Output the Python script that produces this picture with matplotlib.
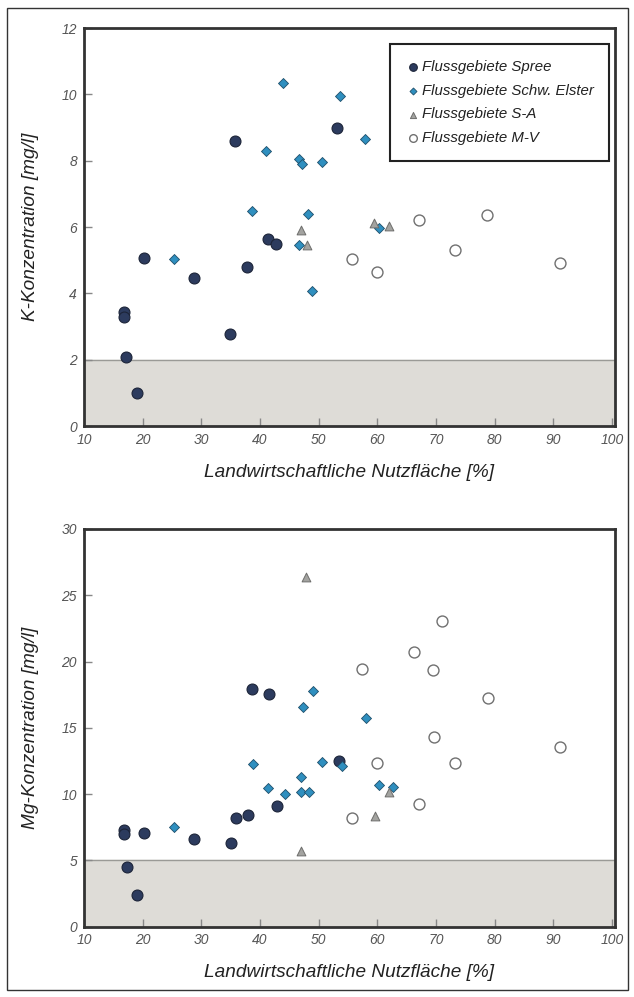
import numpy as np
import matplotlib.pyplot as plt
from matplotlib.patches import Rectangle

plt.rcParams['font.family'] = ['Liberation Sans', 'DejaVu Sans']
plt.rcParams['font.style'] = 'italic'

# --- K-Konzentration (top) ---
k_spree_x = [16.8, 16.8, 17.2, 19.1, 20.2, 28.7, 34.9, 37.8, 41.4, 42.7, 35.7, 53.2]
k_spree_y = [3.43, 3.28, 2.07, 0.99, 5.07, 4.46, 2.78, 4.79, 5.64, 5.49, 8.58, 8.98]
k_elster_x = [25.3, 38.7, 41.1, 44.0, 46.7, 47.2, 50.5, 48.2, 46.7, 48.9, 53.7, 57.9, 60.3]
k_elster_y = [5.03, 6.47, 8.30, 10.33, 8.04, 7.91, 7.97, 6.38, 5.47, 4.06, 9.96, 8.64, 5.96]
k_sa_x = [47.0, 48.0, 59.5, 62.0]
k_sa_y = [5.90, 5.46, 6.13, 6.03]
k_mv_x = [55.6, 60.0, 67.1, 73.3, 78.7, 91.2]
k_mv_y = [5.03, 4.64, 6.20, 5.30, 6.36, 4.90]

# --- Mg-Konzentration (bottom) ---
mg_spree_x = [16.9, 16.9, 20.3, 17.3, 19.1, 28.8, 35.0, 35.9, 38.0, 42.9, 53.4, 38.7, 41.5]
mg_spree_y = [7.25, 6.95, 7.03, 4.48, 2.37, 6.58, 6.32, 8.17, 8.40, 9.08, 12.47, 17.90, 17.55]
mg_elster_x = [25.3, 38.8, 41.3, 44.2, 46.9, 46.9, 48.4, 50.6, 54.0, 47.4, 49.1, 58.0, 60.3, 62.7]
mg_elster_y = [7.53, 12.28, 10.47, 10.02, 11.30, 10.12, 10.17, 12.43, 12.13, 16.60, 17.76, 15.76, 10.70, 10.53]
mg_sa_x = [47.9, 59.6, 62.0, 47.0]
mg_sa_y = [26.4, 8.34, 10.17, 5.70]
mg_mv_x = [55.6, 60.0, 67.1, 69.6, 73.3, 91.2, 78.8, 57.3, 66.3, 71.1, 69.4]
mg_mv_y = [8.17, 12.36, 9.27, 14.33, 12.33, 13.55, 17.25, 19.40, 20.70, 23.05, 19.35]

labels = ["Flussgebiete Spree", "Flussgebiete Schw. Elster",
          "Flussgebiete S-A", "Flussgebiete M-V"]

fig = plt.figure(figsize=(6.34, 9.97), dpi=100)
ax1 = fig.add_axes([84/634, 1-426/997, 531/634, 398/997])
ax2 = fig.add_axes([84/634, 1-926.5/997, 531/634, 397.5/997])

# page frame
fig.add_artist(Rectangle((7/634, 1-990/997), 621/634, 982/997, transform=fig.transFigure,
                         fill=False, edgecolor='#333333', linewidth=1.0))


def draw(ax, data, ymax, ystep, shade, ylabel, legend=False):
    sx, sy, ex, ey, ax_, ay, mx, my = data
    ax.axhspan(0, shade, color='#dedcd7', zorder=0)
    ax.axhline(shade, color='#9a9a96', linewidth=1.0, zorder=1)
    ax.scatter(sx, sy, s=62, marker='o', color='#2c3b5e', edgecolor='#1c2438', linewidth=0.8,
               zorder=3, label=labels[0])
    ax.scatter(ex, ey, s=26, marker='D', color='#2f8fbf', edgecolor='#1f4f6a', linewidth=0.6,
               zorder=4, label=labels[1])
    ax.scatter(ax_, ay, s=40, marker='^', color='#a3a3a0', edgecolor='#6e6e6c', linewidth=0.7,
               zorder=4, label=labels[2])
    ax.scatter(mx, my, s=62, marker='o', facecolor='white', edgecolor='#707070', linewidth=1.0,
               zorder=3, label=labels[3])
    ax.set_xlim(10, 100.5)
    ax.set_ylim(0, ymax)
    ax.set_xticks(np.arange(10, 101, 10))
    ax.set_yticks(np.arange(0, ymax + 0.1, ystep))
    ax.tick_params(direction='in', length=6, width=1, color='#888888',
                   labelcolor='#555555', labelsize=10, pad=5)
    for lab in ax.get_xticklabels() + ax.get_yticklabels():
        lab.set_fontstyle('italic')
    for sp in ax.spines.values():
        sp.set_linewidth(2.0)
        sp.set_color('#333333')
    ax.set_xlabel("Landwirtschaftliche Nutzfläche [%]", fontsize=13.7, style='italic',
                  color='#222222', labelpad=12)
    ax.set_ylabel(ylabel, fontsize=13.7, style='italic', color='#222222', labelpad=16)
    if legend:
        leg = ax.legend(loc='upper right', bbox_to_anchor=(0.989, 0.960), borderaxespad=0,
                        fontsize=10.8, markerscale=0.7, handletextpad=0.05, handlelength=1.0,
                        labelspacing=0.66, borderpad=1.05, fancybox=False, framealpha=1)
        leg.get_frame().set_edgecolor('#222222')
        leg.get_frame().set_linewidth(1.5)
        for t in leg.get_texts():
            t.set_fontstyle('italic')
            t.set_color('#222222')


draw(ax1, (k_spree_x, k_spree_y, k_elster_x, k_elster_y, k_sa_x, k_sa_y, k_mv_x, k_mv_y),
     12, 2, 2, "K-Konzentration [mg/l]", legend=True)
draw(ax2, (mg_spree_x, mg_spree_y, mg_elster_x, mg_elster_y, mg_sa_x, mg_sa_y, mg_mv_x, mg_mv_y),
     30, 5, 5, "Mg-Konzentration [mg/l]")

fig.savefig("out.png", dpi=100)
